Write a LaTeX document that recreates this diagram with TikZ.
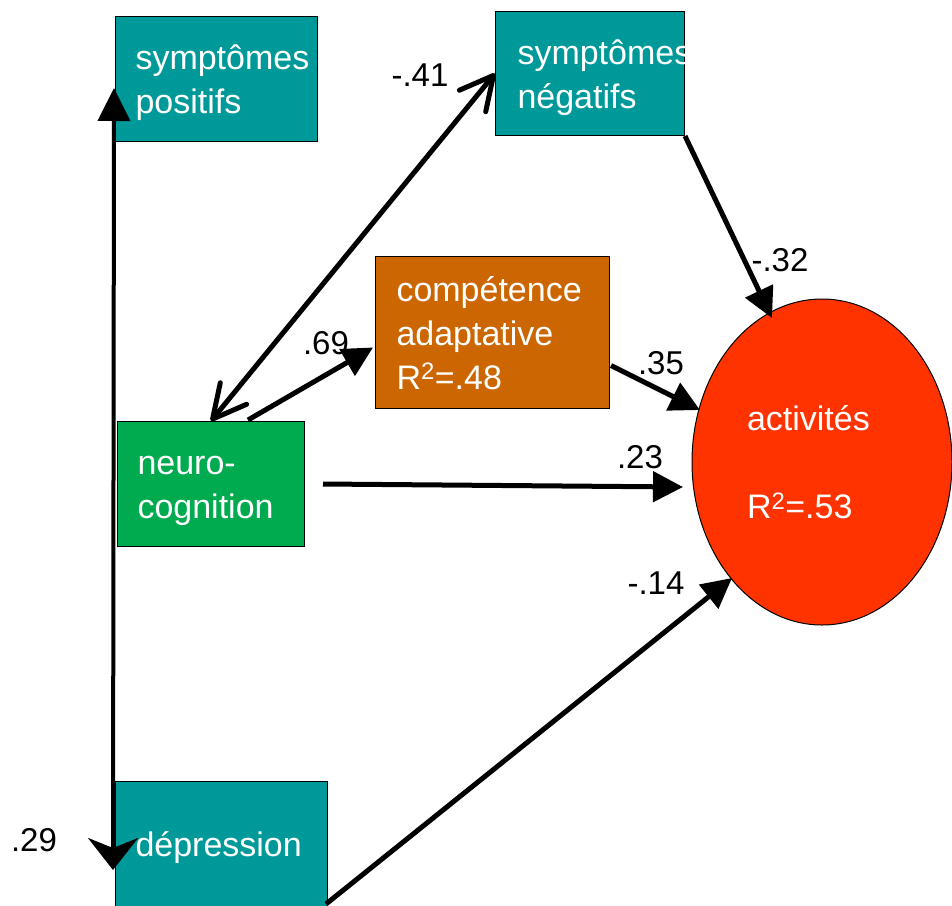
\documentclass[tikz,border=0pt]{standalone}
\usepackage{fontspec}
\setmainfont{Liberation Sans}
\usetikzlibrary{arrows.meta,shapes.geometric,calc}

\definecolor{boxteal}{HTML}{009999}
\definecolor{boxorange}{HTML}{CC6600}
\definecolor{boxgreen}{HTML}{00AA4F}
\definecolor{actred}{HTML}{FF3300}

\newcommand\boxfont{\fontsize{34pt}{44pt}\selectfont}
\newcommand\coeffont{\fontsize{33pt}{40pt}\selectfont}
% fixed line height and depth so every box places its lines alike
\newcommand\ls{\rule[-9pt]{0pt}{43pt}}

\begin{document}
\begin{tikzpicture}[x=1pt,y=-1pt,
  varbox/.style={draw=black, line width=1pt, rectangle, inner ysep=0pt,
    anchor=north west, text=white, font=\boxfont, align=left},
  coef/.style={inner sep=0pt, font=\coeffont, text=black},
  path arrow/.style={line width=5pt, -{Triangle[length=30pt,width=30pt]}},
  barbs/.style={line width=5pt, line cap=round,
    {Straight Barb[length=33pt,width=34pt,round]}-{Straight Barb[length=33pt,width=34pt,round]}}]

\useasboundingbox (0,0) rectangle (952,905);
\clip (0,0) rectangle (952,905);

% variables
\node[varbox, fill=boxteal, minimum width=202pt, minimum height=125pt,
      inner xsep=20pt, text width=162pt] (pos) at (115,16) {\ls symptômes\\\ls positifs};
\node[varbox, fill=boxteal, minimum width=189pt, minimum height=124pt,
      inner xsep=22pt, text width=145pt] (neg) at (495,11) {\ls symptômes\\\ls négatifs};
\node[varbox, fill=boxorange, minimum width=234pt, minimum height=152pt,
      inner xsep=21pt, text width=192pt] (comp) at (375,256)
      {\ls compétence\\adaptative\\\ls R\textsuperscript{2}=.48};
\node[varbox, fill=boxgreen, minimum width=187pt, minimum height=125pt,
      inner xsep=20pt, text width=147pt] (neuro) at (117,421) {\ls neuro-\\\ls cognition};
\node[varbox, fill=boxteal, minimum width=212pt, minimum height=125pt,
      inner xsep=20pt, text width=172pt] (dep) at (115,781) {\ls dépression};

\node[ellipse, draw=black, line width=1pt, fill=actred, inner sep=0pt,
      minimum width=260pt, minimum height=326pt, text=white, font=\boxfont,
      align=left, text width=150pt] (act) at (822,462)
      {activités\\[44pt]R\textsuperscript{2}=.53};

% paths
\draw[line width=4pt, {Triangle[length=33pt,width=32pt]}-{Stealth[length=32pt,width=50pt,inset=10pt]}]
  ($(pos.north west)+(-1,72)$) -- ($(dep.north west)+(-2,89)$);
\draw[barbs] (neuro.north) -- (neg.west);
\draw[path arrow] ($(neuro.north)+(37,-1)$) -- ($(comp.west)+(-2,15)$);
\draw[path arrow] ($(comp.east)+(1,33)$) -- ($(act.center)+(-122,-52)$);
\draw[path arrow] ($(neuro.east)+(18,0)$) -- ($(act.center)+(-139,25)$);
\draw[path arrow] (neg.south east) -- ($(act.center)+(-50,-144)$);
\draw[path arrow] ($(dep.south east)+(-2,-3)$) -- ($(act.center)+(-90,116)$);

% coefficients
\node[coef] (c41) at (420,75) {-.41};
\node[coef] (c69) at (326,343) {.69};
\node[coef] (c35) at (661,363) {.35};
\node[coef] (c23) at (640,457) {.23};
\node[coef] (c32) at (780,260) {-.32};
\node[coef] (c14) at (656,583) {-.14};
\node[coef] (c29) at (34,840) {.29};
\end{tikzpicture}
\end{document}
